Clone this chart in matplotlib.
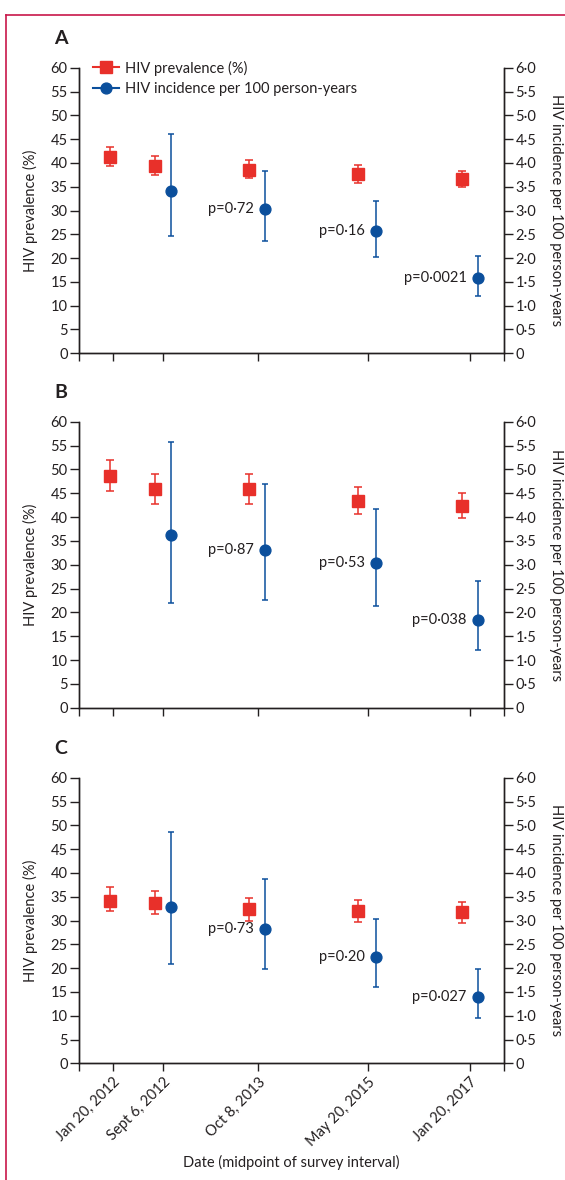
import matplotlib
matplotlib.use("Agg")
import matplotlib.pyplot as plt
from matplotlib.lines import Line2D
from matplotlib.ticker import FixedLocator, FuncFormatter

plt.rcParams['font.family'] = ['Lato', 'DejaVu Sans']

# survey dates (midpoint of interval)
dates = ["Jan 20, 2012", "Sept 6, 2012", "Oct 8, 2013", "May 20, 2015", "Jan 20, 2017"]

# HIV prevalence (%) with 95% CI, panels A/B/C
prev = {
    "A": [41.2, 39.4, 38.6, 37.6, 36.6],
    "B": [48.7, 45.8, 45.8, 43.3, 42.4],
    "C": [34.2, 33.6, 32.4, 31.9, 31.7],
}
prev_lo = {
    "A": [39.3, 37.4, 36.8, 35.7, 34.9],
    "B": [45.5, 42.7, 42.7, 40.6, 39.8],
    "C": [31.9, 31.3, 29.9, 29.6, 29.5],
}
prev_hi = {
    "A": [43.3, 41.4, 40.7, 39.5, 38.4],
    "B": [52.0, 49.0, 49.0, 46.4, 45.1],
    "C": [37.0, 36.2, 34.8, 34.3, 33.9],
}

# HIV incidence per 100 person-years (from 2nd survey onwards)
inc = {
    "A": [3.42, 3.03, 2.56, 1.58],
    "B": [3.62, 3.31, 3.03, 1.85],
    "C": [3.28, 2.82, 2.24, 1.40],
}
inc_lo = {
    "A": [2.47, 2.35, 2.02, 1.20],
    "B": [2.19, 2.25, 2.13, 1.22],
    "C": [2.09, 1.99, 1.60, 0.95],
}
inc_hi = {
    "A": [4.60, 3.84, 3.21, 2.04],
    "B": [5.57, 4.69, 4.16, 2.66],
    "C": [4.85, 3.87, 3.04, 1.98],
}
pvals = {
    "A": ["", "p=0·72", "p=0·16", "p=0·0021"],
    "B": ["", "p=0·87", "p=0·53", "p=0·038"],
    "C": ["", "p=0·73", "p=0·20", "p=0·027"],
}

# layout
W, H = 565, 1180
xpos = [0, 1, 2.87, 5.05, 7.07]
sq_shift = [-0.06, -0.17, -0.18, -0.2, -0.16]
ci_shift = 0.15
xlim = (-0.67, 7.74)
RED = '#e8302a'
BLUE = '#0b4f9c'
TXT = '#231f20'
panel_px = {"A": (67.7, 353.3), "B": (421.7, 707.7), "C": (777.7, 1063.3)}
letter_y = {"A": 38, "B": 393, "C": 749}
ax_l, ax_r = 79, 504

fig = plt.figure(figsize=(W / 100, H / 100), dpi=100)

def fmt_right(v, pos):
    if abs(v) < 1e-9:
        return "0"
    return f"{v:.1f}".replace(".", "·")

for key in ["A", "B", "C"]:
    top, bot = panel_px[key]
    ax = fig.add_axes([ax_l / W, 1 - bot / H, (ax_r - ax_l) / W, (bot - top) / H])
    ax2 = ax.twinx()

    # prevalence
    xs = [x + s for x, s in zip(xpos, sq_shift)]
    yerr = [[p - lo for p, lo in zip(prev[key], prev_lo[key])],
            [hi - p for p, hi in zip(prev[key], prev_hi[key])]]
    ax.errorbar(xs, prev[key], yerr=yerr, fmt='s', color=RED, ms=8,
                elinewidth=1.1, capsize=2.6, capthick=1.1, zorder=3)

    # incidence
    xi = [x + ci_shift for x in xpos[1:]]
    ierr = [[v - lo for v, lo in zip(inc[key], inc_lo[key])],
            [hi - v for v, hi in zip(inc[key], inc_hi[key])]]
    ax2.errorbar(xi, inc[key], yerr=ierr, fmt='o', color=BLUE, ms=7.8,
                 elinewidth=1.1, capsize=2.2, capthick=1.1, zorder=3)
    for x, v, t in zip(xi, inc[key], pvals[key]):
        if t:
            ax2.annotate(t, (x, v), xytext=(-8, 0), textcoords='offset points',
                         ha='right', va='center', fontsize=10.5, color=TXT)

    ax.set_xlim(*xlim)
    ax.set_ylim(0, 60)
    ax2.set_ylim(0, 6)
    ax.set_yticks(range(0, 61, 5))
    ax2.set_yticks([i * 0.5 for i in range(13)])
    ax2.yaxis.set_major_formatter(FuncFormatter(fmt_right))
    ax.set_xticks(xpos)
    ax.xaxis.set_minor_locator(FixedLocator(list(xlim)))
    if key == "C":
        ax.set_xticklabels(dates, rotation=45, ha='right', va='top',
                           rotation_mode='anchor')
    else:
        ax.set_xticklabels([])

    for a in (ax, ax2):
        a.spines['top'].set_visible(False)
        for s in a.spines.values():
            s.set_linewidth(1.0)
            s.set_color(TXT)
        a.tick_params(which='both', direction='out', width=1.0, color=TXT,
                      labelcolor=TXT, labelsize=10.5)
    ax.tick_params(axis='y', length=6.2, pad=2)
    ax2.tick_params(axis='y', length=6.2, pad=2)
    ax.tick_params(axis='x', which='both', length=5.5, pad=3)

    ymid = 1 - (top + bot) / 2 / H
    fig.text(30 / W, ymid, "HIV prevalence (%)", rotation=90, ha='center',
             va='center', fontsize=10.5, color=TXT)
    fig.text(556 / W, ymid, "HIV incidence per 100 person-years", rotation=270,
             ha='center', va='center', fontsize=10.5, color=TXT)
    fig.text(61 / W, 1 - letter_y[key] / H, key, ha='center', va='center',
             fontsize=14, fontweight='bold', color=TXT)

    if key == "A":
        handles = [Line2D([], [], color=RED, marker='s', ms=8, lw=1.5),
                   Line2D([], [], color=BLUE, marker='o', ms=7.8, lw=1.5)]
        ax.legend(handles, ["HIV prevalence (%)", "HIV incidence per 100 person-years"],
                  loc='upper left', bbox_to_anchor=(93 / W, 1 - 60.5 / H),
                  bbox_transform=fig.transFigure, frameon=False, borderpad=0,
                  borderaxespad=0, handlelength=1.8, handletextpad=0.4,
                  labelspacing=0.45, fontsize=10.5, labelcolor=TXT)

fig.text((ax_l + ax_r) / 2 / W, 1 - 1162 / H, "Date (midpoint of survey interval)",
         ha='center', va='center', fontsize=10.5, color=TXT)

# page frame (journal style)
BORDER = '#c8184a'
fig.add_artist(Line2D([6 / W, 6 / W], [0, 1 - 15 / H], color=BORDER, lw=1.2,
                      transform=fig.transFigure))
fig.add_artist(Line2D([6 / W, 1], [1 - 15 / H, 1 - 15 / H], color=BORDER, lw=1.2,
                      transform=fig.transFigure))

fig.savefig("out.png", dpi=100)
